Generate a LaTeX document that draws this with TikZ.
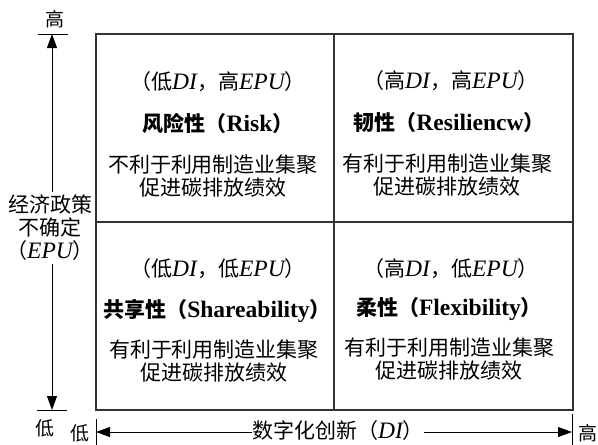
\documentclass[tikz,border=0pt]{standalone}
\usepackage{fontspec}
\setmainfont{Noto Sans CJK SC}
\newfontfamily\enf{Liberation Serif}[Scale=1.12]
\newcommand\ei[1]{{\enf\itshape #1}}
\newcommand\eb[1]{{\enf\bfseries #1}}
\usetikzlibrary{arrows.meta}
\begin{document}
\begin{tikzpicture}[x=1pt,y=-1pt,
  txt/.style={font=\fontsize{21}{23}\selectfont, align=center, inner sep=0pt},
  ttl/.style={font=\fontsize{21}{23}\selectfont\bfseries, inner sep=0pt},
  lab/.style={font=\fontsize{19}{22}\selectfont, inner sep=0pt},
  frame/.style={draw=black!80, line width=1.2pt},
  axis/.style={draw=black, line width=1pt},
  tipe/.style={{Triangle[length=14pt,width=10pt]}-{Triangle[length=14pt,width=10pt]}},
]
\useasboundingbox (0,0) rectangle (598,445);
% frame
\coordinate (f1) at (96,34);
\coordinate (f2) at (573,410);
\draw[frame] (f1) rectangle (f2);
\draw[frame] (334,34) -- (334,410);
\draw[frame] (96,222) -- (573,222);
% vertical axis
\coordinate (vt) at (52,34);
\coordinate (vb) at (52,410);
\draw[axis] (38,34) -- (68,34);
\draw[axis] (37,410) -- (67,410);
\draw[axis,tipe] (vt) -- (vb);
\node[txt, fill=white, inner ysep=3pt] (epu) at (50,228) {经济政策\\不确定\\（\ei{EPU}）};
\node[lab] (hi) at (55,19) {高};
\node[lab] (lo) at (45,428) {低};
% horizontal axis
\coordinate (hl) at (96,432);
\coordinate (hr) at (572,432);
\draw[axis] (96,419) -- (96,445);
\draw[axis] (572,414) -- (572,445);
\draw[axis,tipe] (hl) -- (hr);
\node[txt, fill=white, inner xsep=0pt] (di) at (338,431) {数字化创新（\ei{DI}）};
\node[lab] (lo2) at (80,433) {低};
\node[lab] (hi2) at (588,433) {高};
% quadrants
\node[txt] (tla) at (218,82) {（低\ei{DI}，高\ei{EPU}）};
\node[ttl] (tlb) at (218,123) {风险性（\eb{Risk}）};
\node[txt] (tlc) at (213,176) {不利于利用制造业集聚\\促进碳排放绩效};
\node[txt] (tra) at (451,81) {（高\ei{DI}，高\ei{EPU}）};
\node[ttl] (trb) at (449,123) {韧性（\eb{Resiliencw}）};
\node[txt] (trc) at (447,175) {有利于利用制造业集聚\\促进碳排放绩效};
\node[txt] (bla) at (218,269) {（低\ei{DI}，低\ei{EPU}）};
\node[ttl] (blb) at (217,311) {共享性（\eb{Shareability}）};
\node[txt] (blc) at (214,361) {有利于利用制造业集聚\\促进碳排放绩效};
\node[txt] (bra) at (451,269) {（高\ei{DI}，低\ei{EPU}）};
\node[ttl] (brb) at (449,309) {柔性（\eb{Flexibility}）};
\node[txt] (brc) at (449,359) {有利于利用制造业集聚\\促进碳排放绩效};
\end{tikzpicture}
\end{document}
